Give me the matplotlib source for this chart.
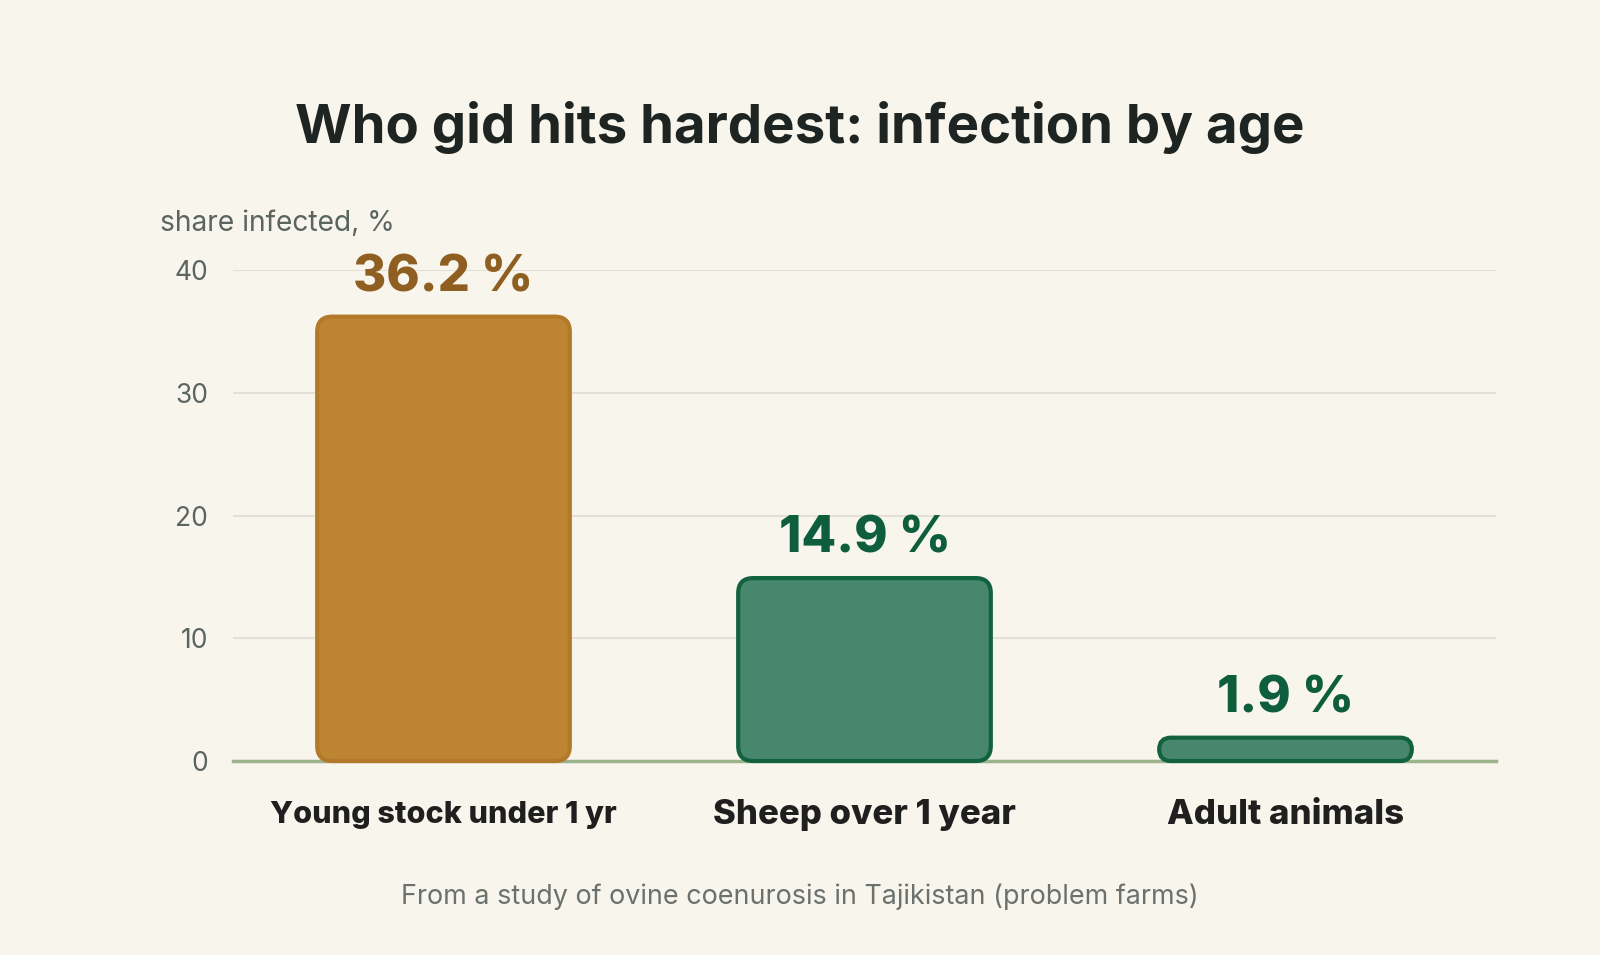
import matplotlib
matplotlib.use("Agg")
import matplotlib.pyplot as plt
from matplotlib.patches import FancyBboxPatch

categories = ["Young stock under 1 yr", "Sheep over 1 year", "Adult animals"]
values = [36.2, 14.9, 1.9]
value_labels = ["36.2 %", "14.9 %", "1.9 %"]
y_ticks = [0, 10, 20, 30, 40]

fills = ["#BD8532", "#47876D", "#47876D"]
edges = ["#B3792A", "#12613F", "#12613F"]
label_colors = ["#8F5F22", "#0E5E3E", "#0E5E3E"]
cat_sizes = [22.0, 25.0, 25.0]

BG = "#F8F5EC"
plt.rcParams['font.family'] = ['Inter', 'DejaVu Sans']

W, H = 1600, 955
fig = plt.figure(figsize=(W / 100, H / 100), dpi=100, facecolor=BG)
ax_l, ax_r, ax_t, ax_b = 233, 1496, 270, 761
ax = fig.add_axes([ax_l / W, 1 - ax_b / H, (ax_r - ax_l) / W, (ax_b - ax_t) / H])
ax.set_facecolor(BG)
ax.set_xlim(-0.5, 2.5)
ax.set_ylim(0, 40)

x = list(range(len(categories)))
bw = 0.6
bars = ax.bar(x, values, width=bw, color="none", edgecolor="none")

# pixel scale for rounded corners
xpp = 3.0 / (ax_r - ax_l)
ypp = 40.0 / (ax_b - ax_t)
aspect = ypp / xpp
r0 = 15 * xpp
for b, fc, ec in zip(bars, fills, edges):
    bx, by = b.get_x(), b.get_y()
    bwid, bh = b.get_width(), b.get_height()
    r = min(r0, bh / aspect / 2.0, bwid / 2.0)
    p = FancyBboxPatch((bx, by), bwid, bh,
                       boxstyle=f"round,pad=0,rounding_size={r}",
                       mutation_aspect=aspect,
                       facecolor=fc, edgecolor=ec, linewidth=3.0,
                       zorder=3, clip_on=False)
    ax.add_patch(p)

for xi, v, lab, c in zip(x, values, value_labels, label_colors):
    ax.annotate(lab, (xi, v), xytext=(0, 11), textcoords="offset points",
                ha="center", va="bottom", fontsize=36.5, fontweight="heavy",
                color=c, zorder=4)

ax.set_yticks(y_ticks)
ax.set_yticklabels([str(t) for t in y_ticks], fontsize=19, color="#5A6460")
ax.tick_params(axis="y", length=0, pad=18)
ax.set_xticks(x)
ax.set_xticklabels(categories, fontweight="heavy", color="#1E1F1E",
                   va="center")
for t, s in zip(ax.get_xticklabels(), cat_sizes):
    t.set_fontsize(s)
ax.tick_params(axis="x", length=0, pad=39)
ax.grid(axis="y", color="#E4E0D6", linewidth=1.5, zorder=0)
ax.set_axisbelow(True)
for s in ["top", "right", "left"]:
    ax.spines[s].set_visible(False)
ax.spines["bottom"].set_color("#9DB38B")
ax.spines["bottom"].set_linewidth(2.5)
ax.spines["bottom"].set_zorder(2)

fig.text(800 / W, 1 - 128 / H, "Who gid hits hardest: infection by age",
         ha="center", va="center", fontsize=39.3, fontweight="bold", color="#1E2421")
fig.text(160 / W, 1 - 223 / H, "share infected, %", ha="left", va="center",
         fontsize=20.3, color="#5A6460")
fig.text(800 / W, 1 - 897 / H,
         "From a study of ovine coenurosis in Tajikistan (problem farms)",
         ha="center", va="center", fontsize=19.4, color="#6B716D")

fig.savefig("out.png", dpi=100, facecolor=BG)
